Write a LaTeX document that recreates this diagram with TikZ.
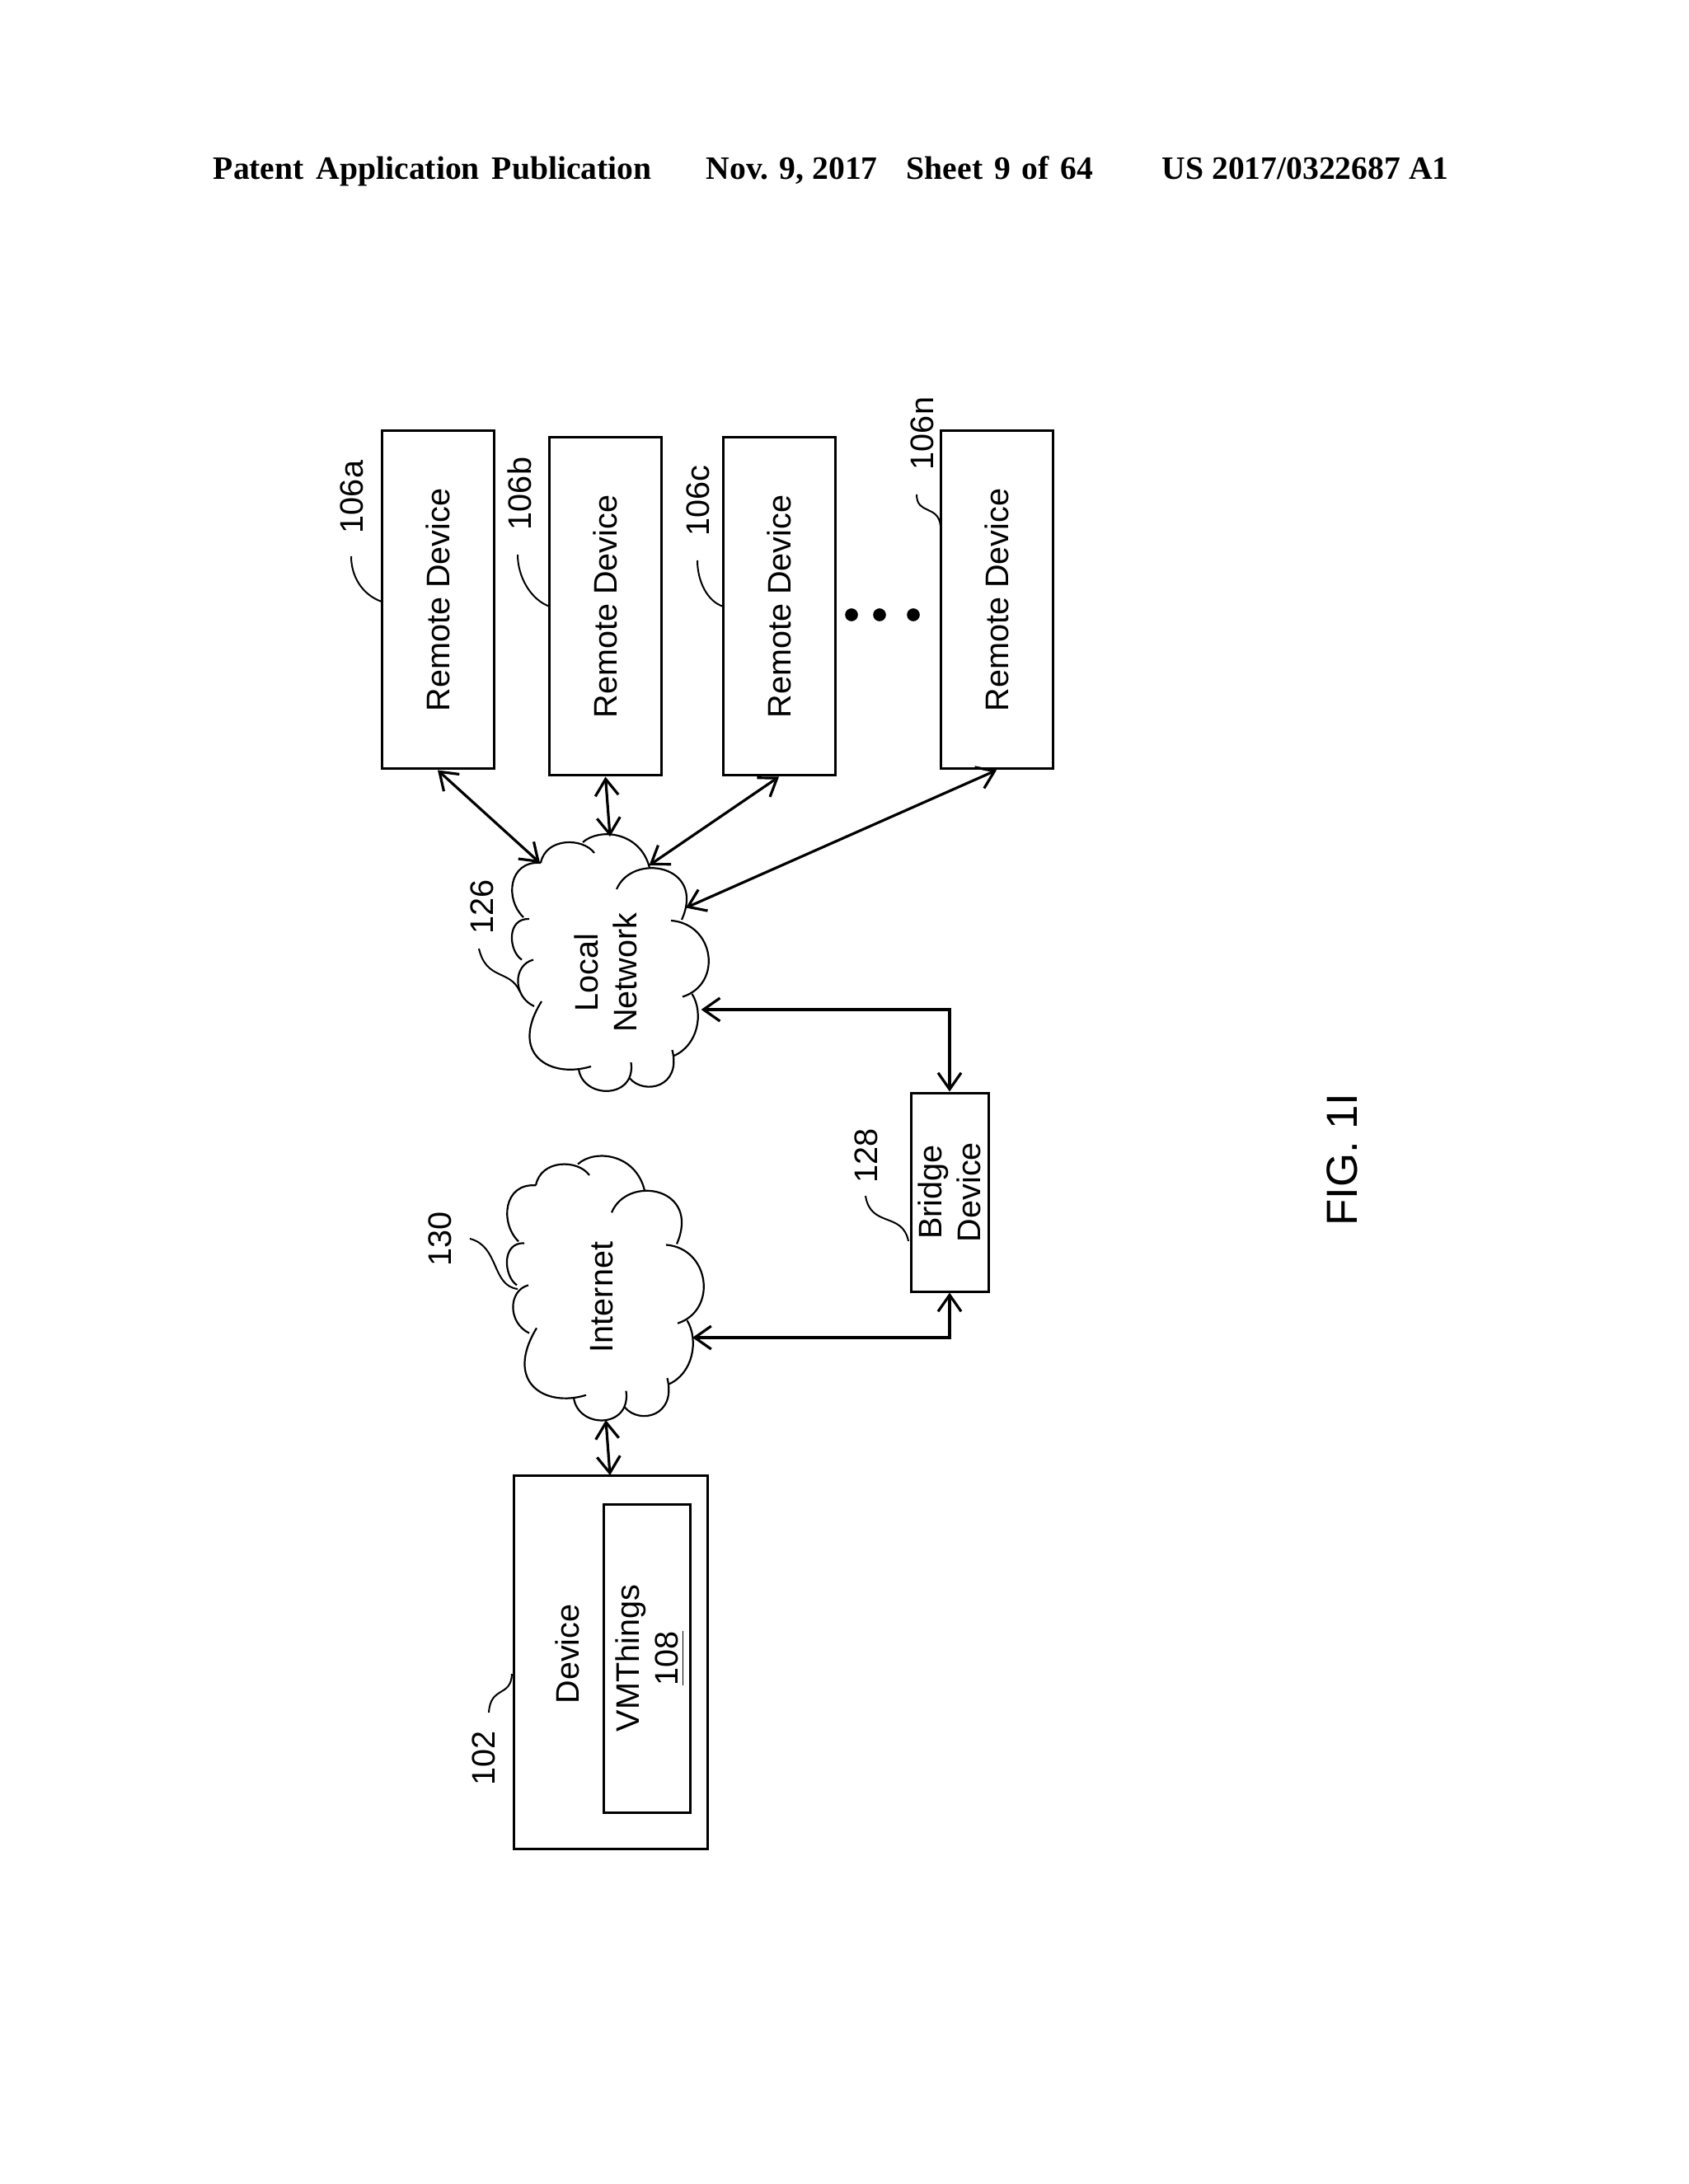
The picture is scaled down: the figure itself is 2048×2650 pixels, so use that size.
\documentclass[tikz,border=0pt]{standalone}
\usepackage{fontspec}
\setmainfont{Liberation Sans}
\newfontfamily\headfont{Liberation Serif}
\usetikzlibrary{arrows.meta}
\tikzset{
    boxnode/.style={draw=black, line width=0.75pt, inner sep=0pt, rotate=90, align=center},
    labeltext/.style={rotate=90, inner sep=0pt, align=center, font=\fontsize{9.9}{11.6}\selectfont},
    headtext/.style={anchor=base west, inner sep=0pt, font=\headfont\bfseries\fontsize{9.9}{12}\selectfont},
    link/.style={line width=0.8pt, <->, >={Straight Barb[length=5pt,width=7pt]}},
    leader/.style={line width=0.5pt},
    lobe/.style={line width=0.55pt}
}
% outline of one cloud, around its centre
\newcommand{\cloudlobes}{
    \draw[lobe] (-86,-122) .. controls (-80,-153) and (-35,-153) .. (-21,-134);
    \draw[lobe] (-35,-147) .. controls (-15,-165) and (35,-160) .. (46,-116);
    \draw[lobe] (6,-90) .. controls (25,-135) and (115,-120) .. (85,-53);
    \draw[lobe] (72,-52) .. controls (125,-48) and (135,25) .. (86,40.5);
    \draw[lobe] (97.5,37) .. controls (112,60) and (105,100) .. (74.5,112.5);
    \draw[lobe] (73.5,105) .. controls (85,150) and (40,160) .. (22,139.5);
    \draw[lobe] (23.5,120) .. controls (30,165) and (-35,165) .. (-40,128);
    \draw[lobe] (-25,125) .. controls (-75,140) and (-125,110) .. (-85,46);
    \draw[lobe] (-94,52) .. controls (-120,40) and (-120,2) .. (-95,-4.5);
    \draw[lobe] (-109,-4.5) .. controls (-125,-15) and (-128,-55) .. (-100,-54);
    \draw[lobe] (-107,-56) .. controls (-130,-78) and (-125,-125) .. (-86,-122);
}
\begin{document}
\begin{tikzpicture}[x=0.25pt, y=-0.25pt, font=\fontsize{9.9}{11.6}\selectfont]
    \useasboundingbox (0,0) rectangle (2048,2650);
    \fill[white] (0,0) rectangle (2048,2650);

    % header line
    \node[headtext] (headpub) at (258,218) {\spaceskip=0.38em Patent Application Publication};
    \node[headtext] (headdate) at (856,218) {Nov. 9, 2017};
    \node[headtext] (headsheet) at (1099,218) {\spaceskip=0.35em Sheet 9 of 64};
    \node[headtext] (headnum) at (1409,218) {US 2017/0322687 A1};

    % remote devices
    \node[boxnode, minimum width=102.5pt, minimum height=34pt] (remotea) at (531,728) {Remote Device};
    \node[boxnode, minimum width=102.5pt, minimum height=34pt] (remoteb) at (734.5,736) {Remote Device};
    \node[boxnode, minimum width=102.5pt, minimum height=34pt] (remotec) at (945,736) {Remote Device};
    \node[boxnode, minimum width=102.5pt, minimum height=34pt] (remoten) at (1209,728) {Remote Device};

    \filldraw[black] (1033,746) circle (7);
    \filldraw[black] (1067,746) circle (7);
    \filldraw[black] (1108,746) circle (7);

    \node[labeltext] (laba) at (427,603) {106a};
    \node[labeltext] (labb) at (630,599) {106b};
    \node[labeltext] (labc) at (847,608) {106c};
    \node[labeltext] (labn) at (1119,526) {106n};
    \draw[leader] (463,730) .. controls (440,722) and (426,700) .. (426,675);
    \draw[leader] (667,736) .. controls (644,728) and (628,700) .. (628,673);
    \draw[leader] (877.6,736) .. controls (858,730) and (846,705) .. (846,680);
    \draw[leader] (1141,638) .. controls (1138,612) and (1112,625) .. (1112,600);

    % the two clouds
    \begin{scope}[shift={(742,1169)}]
        \cloudlobes
    \end{scope}
    \begin{scope}[shift={(736,1564)}, yscale=1.03]
        \cloudlobes
    \end{scope}
    \node[labeltext] (localnet) at (735,1180) {Local\\Network};
    \node[labeltext] (internet) at (730,1574) {Internet};
    \node[labeltext] (lablocal) at (585,1100) {126};
    \node[labeltext] (labinternet) at (533.6,1503) {130};
    \draw[leader] (630.5,1203) .. controls (619,1176) and (590,1190) .. (581,1151);
    \draw[leader] (628,1564) .. controls (596,1560) and (606,1512) .. (570,1503);

    % bridge
    \node[boxnode, minimum width=60.25pt, minimum height=23.5pt] (bridge) at (1152,1446.5) {Bridge\\Device};
    \node[labeltext] (labbridge) at (1051,1402) {128};
    \draw[leader] (1102,1506) .. controls (1095,1470) and (1056,1490) .. (1050,1451);

    % device
    \node[boxnode, minimum width=113.25pt, minimum height=58.75pt] (device) at (740.5,2016.5) {};
    \node[boxnode, minimum width=93.5pt, minimum height=26.25pt] (vmthings) at (784.5,2012) {};
    \node[labeltext] (vmtext) at (789,2012) {VMThings\\\underline{108}};
    \node[labeltext] (devtext) at (688,2007) {Device};
    \node[labeltext] (labdevice) at (587,2133) {102};
    \draw[leader] (621,2031) .. controls (620,2060) and (595,2045) .. (593,2078);

    \node[rotate=90, inner sep=0pt, font=\fontsize{13.2}{15}\selectfont] (figlabel) at (1628,1407) {FIG. 1I};

    % ends on the clouds
    \coordinate (lna) at (655,1047);
    \coordinate (lnb) at (740,1015);
    \coordinate (lnc) at (787.5,1050);
    \coordinate (lnn) at (832,1101.5);
    \coordinate (lnr) at (850.6,1225);
    \coordinate (ita) at (840,1623);
    \coordinate (itb) at (735,1723);
    \coordinate (devtop) at (740,1790);

    \draw[link] (remotea.west) -- (lna);
    \draw[link] (remoteb.west) -- (lnb);
    \draw[link] (remotec.west) -- (lnc);
    \draw[link] (remoten.west) -- (lnn);
    \draw[link] (lnr) -| (bridge.east);
    \draw[link] (ita) -| (bridge.west);
    \draw[link] (itb) -- (devtop);
\end{tikzpicture}
\end{document}
